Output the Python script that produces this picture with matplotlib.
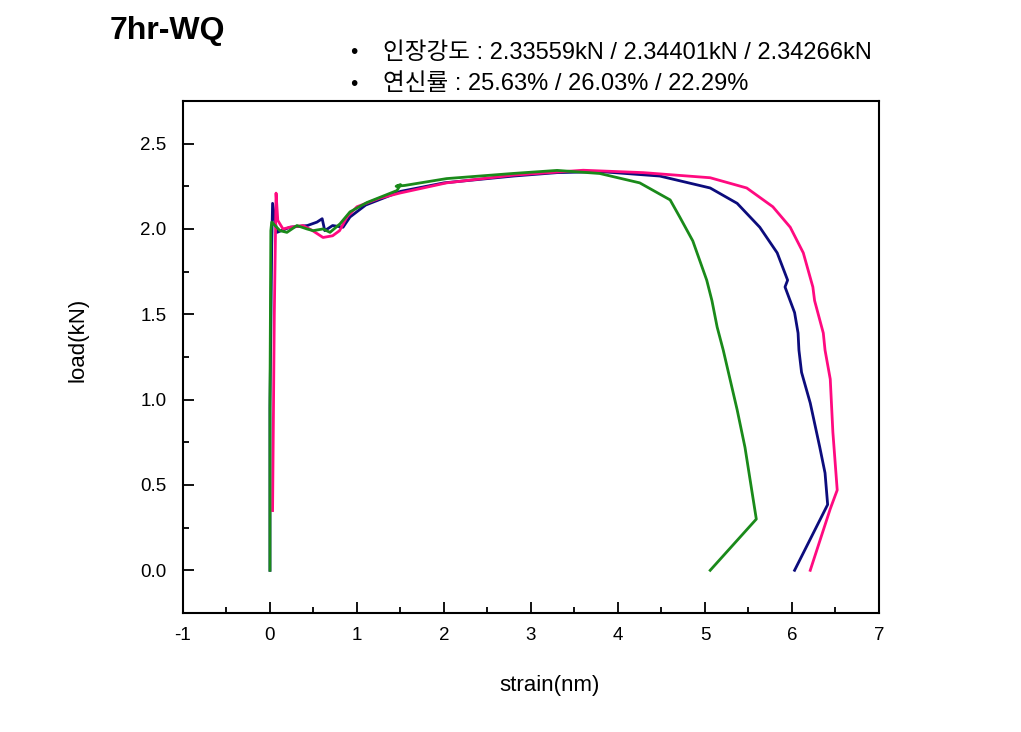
import numpy as np
import matplotlib
matplotlib.use('Agg')
import matplotlib.pyplot as plt
from matplotlib.ticker import MultipleLocator

plt.rcParams['font.family'] = ['Liberation Sans', 'Noto Sans CJK KR', 'DejaVu Sans']
plt.rcParams['axes.unicode_minus'] = False

# strain / load data (three specimens)
blue_x = [0.0, 0.0, 0.02, 0.03, 0.08, 0.23, 0.43, 0.54, 0.60, 0.63, 0.72, 0.84, 0.92,
          1.1, 1.5, 2.0, 2.8, 3.3, 3.8, 4.48, 5.06, 5.37, 5.63, 5.83, 5.95, 5.92,
          6.03, 6.07, 6.08, 6.11, 6.21, 6.32, 6.38, 6.41, 6.03]
blue_y = [0.0, 0.95, 1.9, 2.15, 1.98, 2.01, 2.02, 2.04, 2.06, 1.99, 2.02, 2.01, 2.07,
          2.14, 2.22, 2.27, 2.31, 2.33, 2.336, 2.31, 2.24, 2.15, 2.01, 1.86, 1.70, 1.66,
          1.51, 1.39, 1.29, 1.16, 0.98, 0.72, 0.57, 0.385, 0.0]

pink_x = [0.03, 0.05, 0.07, 0.09, 0.15, 0.23, 0.38, 0.49, 0.61, 0.72, 0.80, 0.885,
          1.0, 1.26, 1.49, 2.03, 2.79, 3.6, 4.29, 5.06, 5.48, 5.78, 5.98, 6.13, 6.24,
          6.26, 6.36, 6.38, 6.44, 6.47, 6.52, 6.44, 6.21]
pink_y = [0.35, 1.5, 2.21, 2.05, 2.0, 2.01, 2.02, 1.99, 1.95, 1.96, 1.99, 2.07,
          2.13, 2.18, 2.21, 2.27, 2.315, 2.344, 2.33, 2.30, 2.24, 2.13, 2.01, 1.86, 1.66,
          1.58, 1.39, 1.29, 1.12, 0.81, 0.47, 0.36, 0.0]

green_x = [0.0, 0.0, 0.01, 0.02, 0.115, 0.195, 0.31, 0.425, 0.495, 0.61, 0.69, 0.805,
           0.92, 1.115, 1.46, 1.50, 1.45, 1.55, 2.03, 2.79, 3.3, 3.79, 4.25, 4.60,
           4.71, 4.86, 5.02, 5.08, 5.14, 5.21, 5.37, 5.46, 5.59, 5.06]
green_y = [0.0, 1.0, 1.99, 2.04, 1.99, 1.98, 2.02, 2.00, 1.99, 2.00, 1.98, 2.03,
           2.10, 2.155, 2.225, 2.26, 2.25, 2.255, 2.295, 2.325, 2.343, 2.325, 2.27, 2.17,
           2.07, 1.93, 1.70, 1.58, 1.425, 1.29, 0.94, 0.72, 0.30, 0.0]

fig = plt.figure(figsize=(10.21, 7.32), dpi=100)
ax = fig.add_axes([0.1792, 0.1626, 0.6817, 0.6995])

ax.plot(blue_x, blue_y, color='#0c0c7c', lw=2)
ax.plot(pink_x, pink_y, color='#ff0a80', lw=2)
ax.plot(green_x, green_y, color='#1a8a1a', lw=2)

ax.set_xlim(-1, 7)
ax.set_ylim(-0.25, 2.75)
ax.xaxis.set_major_locator(MultipleLocator(1))
ax.xaxis.set_minor_locator(MultipleLocator(0.5))
ax.yaxis.set_major_locator(MultipleLocator(0.5))
ax.yaxis.set_minor_locator(MultipleLocator(0.25))
ax.yaxis.set_major_formatter(plt.FormatStrFormatter('%.1f'))
ax.tick_params(which='both', direction='in', top=False, right=False, width=1.3,
               labelsize=13.5)
ax.tick_params(which='major', length=8)
ax.tick_params(which='minor', length=4)
ax.tick_params(axis='x', pad=10)
ax.tick_params(axis='y', pad=12)
for s in ax.spines.values():
    s.set_linewidth(1.5)

ax.set_xlabel('strain(nm)', fontsize=16)
ax.set_ylabel('load(kN)', fontsize=16)
ax.xaxis.set_label_coords(0.527, -0.121)
ax.yaxis.set_label_coords(-0.136, 0.533)

fig.text(110 / 1021, 1 - 31 / 732, '7hr-WQ', fontsize=23, fontweight='bold',
         va='center', ha='left')
fig.text(350 / 1021, 1 - 53 / 732, '•', fontsize=15, va='center')
fig.text(383 / 1021, 1 - 53 / 732, '인장강도 : 2.33559kN / 2.34401kN / 2.34266kN',
         fontsize=17, va='center')
fig.text(350 / 1021, 1 - 84 / 732, '•', fontsize=15, va='center')
fig.text(383 / 1021, 1 - 84 / 732, '연신률 : 25.63% / 26.03% / 22.29%',
         fontsize=17, va='center')

fig.savefig('out.png', dpi=100)
